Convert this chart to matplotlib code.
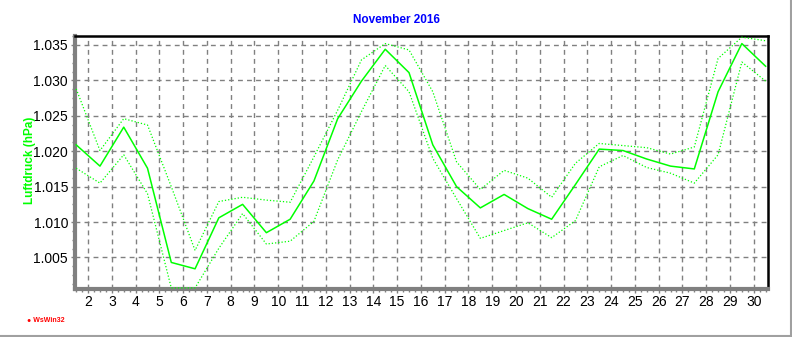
import matplotlib
matplotlib.use("Agg")
import matplotlib.pyplot as plt
from matplotlib.lines import Line2D
from matplotlib.ticker import MultipleLocator
import numpy as np

# x positions: mid-day (day 1.5 ... 30.5)
days = [d + 0.5 for d in range(1, 31)]

mean_p = [1.0209, 1.0179, 1.0234, 1.0176, 1.0043, 1.0034, 1.0106, 1.0125, 1.0085, 1.0104,
          1.0158, 1.0246, 1.0299, 1.0344, 1.0311, 1.0209, 1.0150, 1.0120, 1.0139, 1.0119,
          1.0104, 1.0153, 1.0203, 1.0201, 1.0189, 1.0179, 1.0175, 1.0284, 1.0352, 1.0320]

max_p = [1.0288, 1.0201, 1.0246, 1.0237, 1.0150, 1.0060, 1.0129, 1.0135, 1.0131, 1.0128,
         1.0192, 1.0258, 1.0329, 1.0352, 1.0343, 1.0284, 1.0185, 1.0146, 1.0173, 1.0162,
         1.0135, 1.0183, 1.0211, 1.0208, 1.0205, 1.0196, 1.0206, 1.0331, 1.0361, 1.0356]

min_p = [1.0176, 1.0155, 1.0195, 1.0140, 1.0007, 1.0007, 1.0063, 1.0112, 1.0069, 1.0073,
         1.0101, 1.0188, 1.0256, 1.0321, 1.0284, 1.0190, 1.0133, 1.0077, 1.0088, 1.0099,
         1.0078, 1.0102, 1.0178, 1.0194, 1.0177, 1.0169, 1.0155, 1.0195, 1.0326, 1.0299]

x_ticks = list(range(2, 31))
y_ticks = [1.005, 1.010, 1.015, 1.020, 1.025, 1.030, 1.035]

W, H = 792, 337
fig = plt.figure(figsize=(W / 100, H / 100), dpi=100)
fig.patch.set_facecolor("white")
plt.rcParams['font.family'] = ['Liberation Sans', 'DejaVu Sans']

ax = fig.add_axes([75 / W, 1 - 288.5 / H, (768 - 75) / W, (288.5 - 36) / H])
ax.set_xlim(1.45, 30.6)
ax.set_ylim(1.00062, 1.03627)

ax.plot(days, max_p, color="#00FF00", lw=0.9, ls=(0, (1, 1.6)), zorder=3)
ax.plot(days, min_p, color="#00FF00", lw=0.9, ls=(0, (1, 1.6)), zorder=3)
ax.plot(days, mean_p, color="#00FF00", lw=1.1, ls="-", zorder=4)

ax.set_xticks(x_ticks)
ax.set_xticklabels([str(t) for t in x_ticks])
ax.set_yticks(y_ticks)
ax.set_yticklabels(["%.3f" % v for v in y_ticks])
ax.xaxis.set_minor_locator(MultipleLocator(0.25))
ax.yaxis.set_minor_locator(MultipleLocator(0.00125))

ax.grid(True, which="major", color="#808080", lw=1.0, ls=(0, (3.5, 3)))
ax.tick_params(axis="both", which="major", labelsize=10, length=3, width=1, color="#808080", direction="out")
ax.tick_params(axis="both", which="minor", length=2, width=1, color="#808080", direction="out")
ax.tick_params(axis="x", pad=2)
ax.tick_params(axis="y", pad=2)

for side in ["left", "bottom"]:
    ax.spines[side].set_color("#808080")
    ax.spines[side].set_linewidth(3)
for side in ["top", "right"]:
    ax.spines[side].set_color("black")
    ax.spines[side].set_linewidth(1.8)

fig.text(396 / W, 1 - 20 / H, "November 2016", color="#0000FF", fontsize=8.5,
         fontweight="bold", ha="center", va="center")
fig.text(30 / W, 1 - 160 / H, "Luftdruck (hPa)", color="#00FF00", fontsize=8.5,
         fontweight="bold", ha="center", va="center", rotation=90)
fig.text(27 / W, 1 - 320 / H, "\u25CF WsWin32", color="#FF0000", fontsize=5,
         fontweight="bold", ha="left", va="center")

# window frame edges
fig.add_artist(Line2D([790.5 / W, 790.5 / W], [1 - 335.5 / H, 1.0], transform=fig.transFigure,
                      color="#A0A0A0", lw=1.5))
fig.add_artist(Line2D([0.0, 790.5 / W], [1 - 335.5 / H, 1 - 335.5 / H], transform=fig.transFigure,
                      color="#A0A0A0", lw=1.5))

fig.savefig("out.png", dpi=100, facecolor="white")
